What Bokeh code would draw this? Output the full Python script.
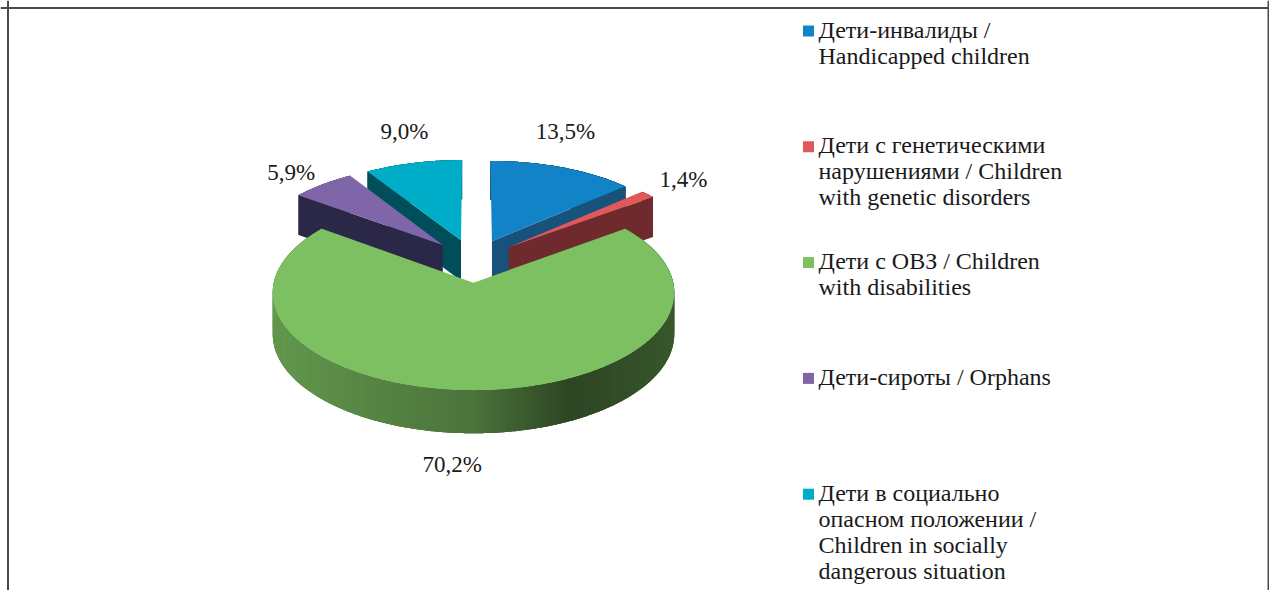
import numpy as np
from bokeh.plotting import figure
from bokeh.models import Range1d, Span, ColumnDataSource
from bokeh.core.properties import value
from bokeh.embed import file_html
from bokeh.resources import INLINE

# ---------------- data ----------------
categories = [
    "Дети-инвалиды /\nHandicapped children",
    "Дети с генетическими\nнарушениями / Children\nwith genetic disorders",
    "Дети с ОВЗ / Children\nwith disabilities",
    "Дети-сироты / Orphans",
    "Дети в социально\nопасном положении /\nChildren in socially\ndangerous situation",
]
values = [13.5, 1.4, 70.2, 5.9, 9.0]
top_colors = ["#1283c6", "#e05858", "#7dc062", "#7f66a9", "#00adc9"]
face_colors = ["#17527a", "#6e2a2d", "#3f6a30", "#2b2748", "#004e5a"]

# ---------------- layout / style ----------------
W, H = 1269, 590
CX, CY = 473.0, 260.0      # screen position of the pie centre
A, B = 195.0, 92.0         # horizontal / depth radii
K = 0.1                    # perspective for plane
D, KH = 41.0, 0.04         # thickness and its perspective
EXPLODE = 0.235
label_r = [1.72, 1.525, 1.82, 1.48, 1.68]
label_shift = [-5.7, -0.4, 2.8, -1.3, 2.0]
FONT = "Liberation Serif, DejaVu Serif, serif"
TEXT_COLOR = "#1a1a1a"
LEG_X_SQ, LEG_X_TXT = 808, 818
LEG_Y0, LEG_SLOT, LEG_LINE = 37.0, 115.8, 26.0   # first baseline, slot, line step
MID_OFF = 8.0                                    # baseline -> text middle
shade_s = [-1.0, 0.0, 0.44, 1.0]
shade_v = [0.80, 0.60, 0.36, 0.46]


def proj(X, Z, h):
    X = np.asarray(X, float)
    Z = np.asarray(Z, float)
    sx = CX + A * X / (1 + K * Z)
    sy = CY - B * Z / (1 + K * Z) + h * D / (1 + KH * Z)
    return sx, sy


def scale_color(hexc, f):
    r, g, b = int(hexc[1:3], 16), int(hexc[3:5], 16), int(hexc[5:7], 16)
    return "#%02x%02x%02x" % tuple(int(max(0, min(255, round(c * f)))) for c in (r, g, b))


total = sum(values)
ends = np.cumsum(values) / total * 360.0
starts = np.concatenate([[0.0], ends[:-1]])
mids = (starts + ends) / 2

xs_all, ys_all, col_all = [], [], []

# painter's order: farthest (largest Z of bisector) first
order = sorted(range(len(values)), key=lambda i: -np.cos(np.radians(mids[i])))
for i in order:
    t1, t2, tm = starts[i], ends[i], mids[i]
    ox = EXPLODE * np.sin(np.radians(tm))
    oz = EXPLODE * np.cos(np.radians(tm))
    n = max(3, int((t2 - t1) / 0.5) + 1)
    th = np.linspace(t1, t2, n)
    r = np.radians(th)
    tx, ty = proj(ox + np.sin(r), oz + np.cos(r), 0)
    bx, by = proj(ox + np.sin(r), oz + np.cos(r), 1)
    # base side in mid shade, then overlapping shaded strips (no seams)
    xs_all.append(list(tx) + list(bx[::-1]))
    ys_all.append(list(ty) + list(by[::-1]))
    col_all.append(scale_color(top_colors[i], float(np.interp(np.sin(np.radians(tm)), shade_s, shade_v))))
    for j in range(n - 1):
        j2 = min(n - 1, j + 2)
        s = np.sin((r[j] + r[j + 1]) / 2)
        c = scale_color(top_colors[i], float(np.interp(s, shade_s, shade_v)))
        xs_all.append(list(tx[j:j2 + 1]) + list(bx[j:j2 + 1][::-1]))
        ys_all.append(list(ty[j:j2 + 1]) + list(by[j:j2 + 1][::-1]))
        col_all.append(c)
    # radial faces (only those facing the viewer)
    for t, vis in ((t1, np.sin(np.radians(t1)) < -1e-6), (t2, np.sin(np.radians(t2)) > 1e-6)):
        if not vis:
            continue
        rr = np.radians(t)
        X = [ox, ox + np.sin(rr), ox + np.sin(rr), ox]
        Z = [oz, oz + np.cos(rr), oz + np.cos(rr), oz]
        hh = [0, 0, 1, 1]
        pts = [proj(X[k], Z[k], hh[k]) for k in range(4)]
        xs_all.append([float(q[0]) for q in pts])
        ys_all.append([float(q[1]) for q in pts])
        col_all.append(face_colors[i])
    # top face
    px = np.concatenate([[ox], ox + np.sin(r)])
    pz = np.concatenate([[oz], oz + np.cos(r)])
    sx, sy = proj(px, pz, 0)
    xs_all.append(list(sx))
    ys_all.append(list(sy))
    col_all.append(top_colors[i])

p = figure(width=W, height=H, output_backend="svg", toolbar_location=None,
           x_range=Range1d(0, W), y_range=Range1d(H, 0),
           min_border=0, outline_line_color=None, background_fill_color="white")
p.axis.visible = False
p.grid.visible = False

src = ColumnDataSource(dict(xs=xs_all, ys=ys_all, c=col_all))
p.patches("xs", "ys", source=src, fill_color="c", line_color=None)

# percentage labels
lx, ly, lt = [], [], []
for i, v in enumerate(values):
    a = np.radians(mids[i] + label_shift[i])
    x, y = proj(label_r[i] * np.sin(a), label_r[i] * np.cos(a), 0)
    lx.append(float(x)); ly.append(float(y))
    lt.append(("%.1f" % v).replace(".", ",") + "%")
p.text(lx, ly, text=lt, text_font=value(FONT), text_font_size="23px",
       text_align="center", text_baseline="middle", text_color=TEXT_COLOR)

# legend
sqx, sqy, tx_, ty_, tt = [], [], [], [], []
for i, lab in enumerate(categories):
    base = LEG_Y0 + i * LEG_SLOT
    sqx.append(LEG_X_SQ); sqy.append(base - 6.5)
    for k, line in enumerate(lab.split("\n")):
        tx_.append(LEG_X_TXT); ty_.append(base + k * LEG_LINE - MID_OFF); tt.append(line)
p.scatter(sqx, sqy, marker="square", size=11, fill_color=top_colors, line_color=None)
p.text(tx_, ty_, text=tt, text_font=value(FONT), text_font_size="24px",
       text_align="left", text_baseline="middle", text_color=TEXT_COLOR)

# frame border (top, left, right)
for loc, dim in ((7.5, "width"), (7.5, "height"), (W - 1.0, "height")):
    p.add_layout(Span(location=loc, dimension=dim, line_color="#4a4a4a", line_width=2))

open("out.html", "w").write(file_html(p, INLINE))
